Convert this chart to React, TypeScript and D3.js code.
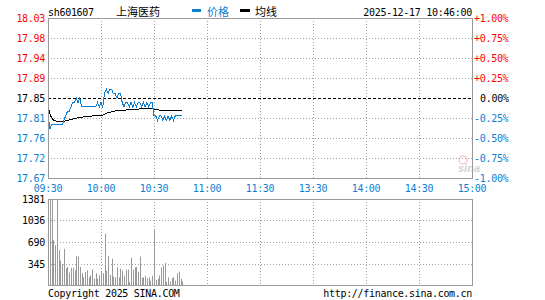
import React from 'react';
import * as d3 from 'd3';

const code = 'sh601607';
const stockName = '上海医药';
const stamp = '2025-12-17 10:46:00';
const prevClose = 17.85;

const timeLabels = ['09:30', '10:00', '10:30', '11:00', '11:30', '13:30', '14:00', '14:30', '15:00'];
const priceLabels = ['18.03', '17.98', '17.94', '17.89', '17.85', '17.81', '17.76', '17.72', '17.67'];
const pctLabels = ['+1.00%', '+0.75%', '+0.50%', '+0.25%', '0.00%', '-0.25%', '-0.50%', '-0.75%', '-1.00%'];
const volLabels = [1381, 1036, 690, 345];

// one value per minute from 09:30 to 10:46
const prices = [
  17.82, 17.78, 17.79, 17.79, 17.79, 17.79, 17.79, 17.79, 17.79, 17.80,
  17.81, 17.82, 17.82, 17.83, 17.84, 17.84, 17.85, 17.84, 17.85, 17.83,
  17.83, 17.83, 17.83, 17.83, 17.83, 17.83, 17.83, 17.83, 17.84, 17.83,
  17.84, 17.83, 17.86, 17.87, 17.86, 17.87, 17.87, 17.86, 17.86, 17.85,
  17.86, 17.86, 17.84, 17.83, 17.84, 17.84, 17.83, 17.84, 17.83, 17.84,
  17.83, 17.84, 17.84, 17.83, 17.84, 17.83, 17.84, 17.83, 17.84, 17.84,
  17.81, 17.81, 17.80, 17.81, 17.81, 17.80, 17.81, 17.80, 17.81, 17.80,
  17.81, 17.80, 17.81, 17.81, 17.81, 17.81, 17.81,
];

const avgPrices = [
  17.835, 17.815, 17.806, 17.801, 17.799, 17.798, 17.797, 17.797, 17.797, 17.798,
  17.799, 17.800, 17.801, 17.802, 17.803, 17.804, 17.805, 17.806, 17.807, 17.807,
  17.808, 17.808, 17.809, 17.809, 17.809, 17.810, 17.810, 17.810, 17.811, 17.811,
  17.811, 17.812, 17.814, 17.816, 17.817, 17.818, 17.819, 17.820, 17.821, 17.821,
  17.822, 17.822, 17.823, 17.823, 17.823, 17.824, 17.824, 17.824, 17.824, 17.825,
  17.825, 17.825, 17.826, 17.826, 17.826, 17.826, 17.826, 17.826, 17.826, 17.826,
  17.825, 17.824, 17.824, 17.823, 17.823, 17.823, 17.823, 17.823, 17.823, 17.823,
  17.823, 17.823, 17.823, 17.823, 17.823, 17.823, 17.823,
];

const volumes = [
  160, 1381, 1381, 720, 640, 1381, 560, 390, 330, 580,
  270, 290, 200, 275, 275, 235, 465, 455, 290, 190,
  125, 210, 235, 125, 155, 250, 100, 190, 100, 155,
  210, 190, 826, 230, 467, 163, 423, 135, 124, 284,
  124, 262, 229, 146, 246, 246, 47, 439, 246, 284,
  290, 213, 456, 113, 124, 146, 108, 124, 70, 150,
  882, 80, 102, 150, 284, 312, 356, 47, 124, 52,
  108, 124, 69, 190, 213, 102, 60,
];

const W = 545;
const H = 300;
const left = 48;
const right = 472;
const priceTop = 18;
const priceBottom = 178;
const volTop = 199;
const volBottom = 285;

const BLUE = '#0a7fd3';
const RED = '#ff0000';
const GRID = '#a0a0a0';
const mono = '"DejaVu Sans Mono", "Liberation Mono", monospace';
const cjk = '"Noto Sans CJK SC", sans-serif';

export default function App() {
  const x = d3.scaleLinear().domain([0, 240]).range([left, right]);
  const span = prevClose * 0.01;
  const y = d3.scaleLinear().domain([prevClose - span, prevClose + span]).range([priceBottom, priceTop]);
  const yv = d3.scaleLinear().domain([0, volLabels[0]]).range([volBottom, volTop]).clamp(true);
  const gridY = priceLabels.map((_, i) => y(prevClose + span - (i * span) / 4));

  const priceLine = d3.line<number>().x((_, i) => x(i)).y(d => y(d));
  const txt = { fontFamily: mono, fontSize: 10, letterSpacing: -0.3 } as React.CSSProperties;

  const labelColor = (i: number) => (i < 4 ? RED : i === 4 ? '#000' : BLUE);

  return (
    <svg width={W} height={H} style={{ position: 'absolute', left: 0, top: 0, background: '#fff' }}>
      {/* header */}
      <text x={left} y={16} style={txt} fill="#000">{code}</text>
      <text x={116} y={16} fontFamily={cjk} fontSize={11} fill="#000">{stockName}</text>
      <rect x={192} y={9} width={9} height={3} fill={BLUE} />
      <text x={207} y={16} fontFamily={cjk} fontSize={11} fill={BLUE}>价格</text>
      <rect x={240} y={9} width={10} height={3} fill="#000" />
      <text x={255} y={16} fontFamily={cjk} fontSize={11} fill="#000">均线</text>
      <text x={right} y={16} style={txt} fill="#000" textAnchor="end">{stamp}</text>

      {/* price grid */}
      {gridY.slice(1, -1).map((gy, i) => (
        <line key={'h' + i} x1={left} x2={right} y1={Math.round(gy) + 0.5} y2={Math.round(gy) + 0.5}
          stroke={i === 3 ? '#000' : GRID} strokeDasharray={i === 3 ? '3,2' : '1,2'} />
      ))}
      {timeLabels.slice(1, -1).map((_, i) => (
        <line key={'v' + i} x1={Math.round(x((i + 1) * 30)) + 0.5} x2={Math.round(x((i + 1) * 30)) + 0.5}
          y1={priceTop} y2={priceBottom} stroke={GRID} strokeDasharray="1,2" />
      ))}

      {/* volume grid */}
      {volLabels.slice(1).map((v, i) => (
        <line key={'vh' + i} x1={left} x2={right} y1={Math.round(yv(v)) + 0.5} y2={Math.round(yv(v)) + 0.5}
          stroke={GRID} strokeDasharray="1,2" />
      ))}
      {timeLabels.slice(1, -1).map((_, i) => (
        <line key={'vv' + i} x1={Math.round(x((i + 1) * 30)) + 0.5} x2={Math.round(x((i + 1) * 30)) + 0.5}
          y1={volTop} y2={volBottom} stroke={GRID} strokeDasharray="1,2" />
      ))}

      {/* volume bars */}
      {volumes.map((v, i) => (
        <rect key={'b' + i} x={Math.round(x(i))} y={yv(v)} width={1} height={volBottom - yv(v)} fill="#999" />
      ))}

      {/* price + average lines */}
      <path d={priceLine(avgPrices) || ''} fill="none" stroke="#000" strokeWidth={1} shapeRendering="crispEdges" />
      <path d={priceLine(prices) || ''} fill="none" stroke={BLUE} strokeWidth={1} shapeRendering="crispEdges" />

      {/* borders */}
      <rect x={left + 0.5} y={priceTop + 0.5} width={right - left} height={priceBottom - priceTop} fill="none" stroke="#999" />
      <rect x={left + 0.5} y={volTop + 0.5} width={right - left} height={volBottom - volTop} fill="none" stroke="#999" />

      {/* axis labels */}
      {priceLabels.map((t, i) => (
        <text key={'pl' + i} x={45} y={gridY[i] + 4} style={txt} fill={labelColor(i)} textAnchor="end">{t}</text>
      ))}
      {pctLabels.map((t, i) => (
        <text key={'pr' + i} x={i === 4 ? 480 : 474} y={gridY[i] + 4} style={txt} fill={labelColor(i)}>{t}</text>
      ))}
      {timeLabels.map((t, i) => (
        <text key={'t' + i} x={x(i * 30)} y={192} style={txt} fill={BLUE} textAnchor="middle">{t}</text>
      ))}
      {volLabels.map((v, i) => (
        <text key={'vl' + i} x={45} y={yv(v) + 4} style={txt} fill="#000" textAnchor="end">{v}</text>
      ))}

      {/* watermark */}
      <g opacity={0.45}>
        <circle cx={463} cy={160} r={4} fill="none" stroke="#e88" strokeWidth={1.5} />
        <text x={458} y={172} fontFamily="Verdana, sans-serif" fontStyle="italic" fontWeight="bold" fontSize={11} fill="#999">sina</text>
      </g>

      {/* footer */}
      <text x={left} y={297} style={txt} fill="#000">Copyright 2025 SINA.COM</text>
      <text x={right} y={297} style={txt} fill="#000" textAnchor="end">http://finance.sina.com.cn</text>
    </svg>
  );
}
